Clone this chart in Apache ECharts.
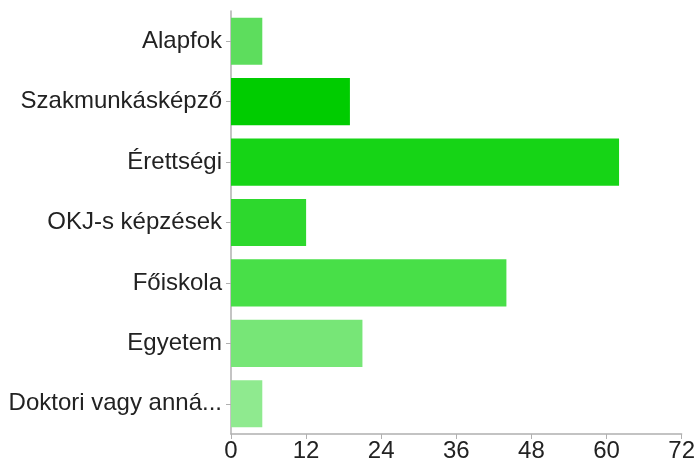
<!DOCTYPE html>
<html>
<head>
<meta charset="utf-8">
<script src="https://cdn.jsdelivr.net/npm/echarts@6/dist/echarts.min.js"></script>
<style>
    html, body { margin: 0; padding: 0; background: #fff; }
    #chart { width: 698px; height: 468px; }
</style>
</head>
<body>
<div id="chart"></div>
<script>
const categories = ['Alapfok', 'Szakmunkásképző', 'Érettségi', 'OKJ-s képzések', 'Főiskola', 'Egyetem', 'Doktori vagy anná...']
const values = [5, 19, 62, 12, 44, 21, 5]
const barColors = ['#5ddd5d', '#00cc00', '#16d416', '#2dd82d', '#48df48', '#77e677', '#8fea8f']
const xTicks = [0, 12, 24, 36, 48, 60, 72]

const chart = echarts.init(document.getElementById('chart'))

const axisColor = '#b0b0b0'
const option = {
    animation: false,
    grid: {
        left: 231,
        right: 16,
        top: 11,
        bottom: 34
    },
    xAxis: {
        type: 'value',
        min: xTicks[0],
        max: xTicks[xTicks.length - 1],
        interval: 12,
        splitLine: { show: false },
        axisLine: { show: true, lineStyle: { color: axisColor, width: 1.5 } },
        axisTick: { show: true, length: 5, lineStyle: { color: axisColor } },
        axisLabel: {
            color: '#222',
            fontSize: 24,
            fontFamily: 'Liberation Sans',
            margin: 5
        }
    },
    yAxis: {
        type: 'category',
        inverse: true,
        data: categories,
        axisLine: { show: true, lineStyle: { color: axisColor, width: 1.5 } },
        axisTick: { show: true, alignWithLabel: true, length: 5, lineStyle: { color: axisColor } },
        axisLabel: {
            color: '#222',
            fontSize: 24,
            fontFamily: 'Liberation Sans',
            margin: 9
        }
    },
    series: [{
        type: 'bar',
        barCategoryGap: '22%',
        data: values.map((v, i) => ({ value: v, itemStyle: { color: barColors[i] } }))
    }]
}
chart.setOption(option)
</script>
</body>
</html>
